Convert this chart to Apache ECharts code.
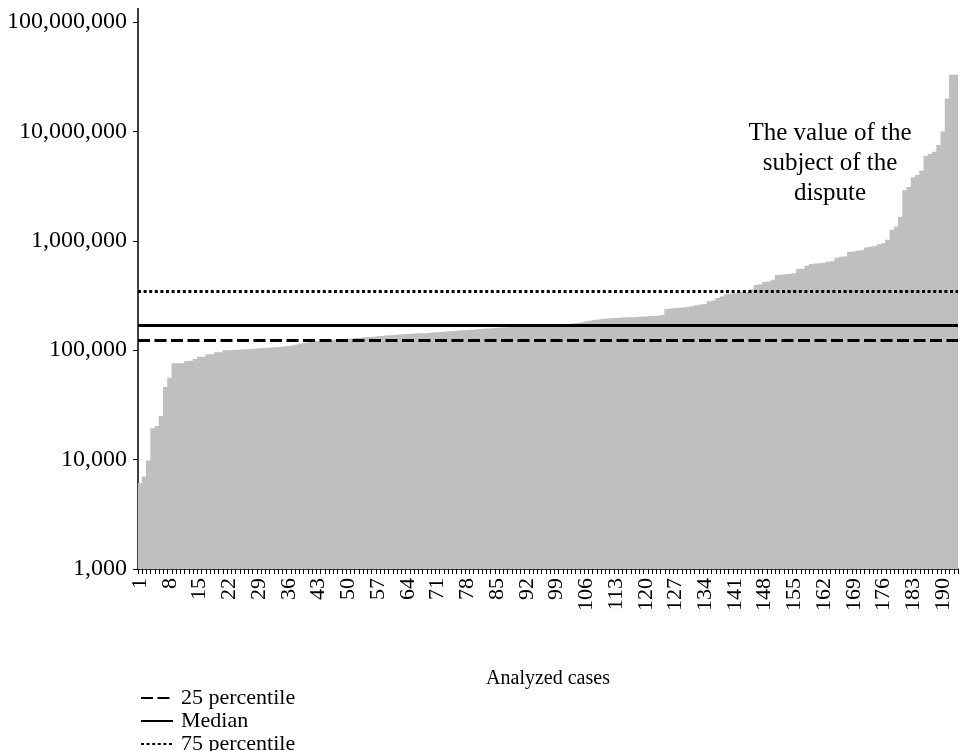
<!DOCTYPE html>
<html><head><meta charset="utf-8">
<script src="https://cdn.jsdelivr.net/npm/echarts@6/dist/echarts.min.js"></script>
<style>html,body{margin:0;padding:0;background:#fff}#c{width:961px;height:751px}</style>
</head><body><div id="c"></div>
<script>
const caseValues = [
  6100, 7000, 9800, 19300, 20300, 25000, 46000, 56000, 76000, 76000,
  76000, 79500, 80000, 83000, 87000, 87000, 92000, 92000, 96000, 96000,
  100000, 100000, 100500, 101000, 101500, 102000, 102500, 103000, 104000, 105000,
  105500, 106000, 106500, 107000, 108000, 109000, 111000, 113000, 115000, 117000,
  119000, 120000, 121000, 122000, 123000, 124000, 124500, 125000, 126000, 127000,
  128000, 129000, 130000, 131000, 132000, 133000, 134000, 135000, 136000, 137000,
  138000, 139000, 140000, 141000, 141500, 142000, 142500, 143000, 144000, 145000,
  146000, 147000, 148000, 149000, 150000, 151000, 152000, 153000, 154000, 155000,
  156000, 157000, 158000, 159000, 160000, 161000, 162000, 163000, 164000, 165000,
  166000, 167000, 168000, 168500, 169000, 169500, 170000, 170500, 171000, 172000,
  173000, 174000, 175000, 177000, 180000, 183000, 186000, 189000, 191000, 193000,
  195000, 196000, 197000, 198000, 199000, 200000, 200000, 201000, 202000, 203000,
  204000, 205000, 206000, 210000, 238000, 240000, 242000, 244000, 246000, 248000,
  252000, 258000, 261000, 265000, 280000, 285000, 300000, 310000, 325000, 330000,
  333000, 336000, 339000, 342000, 360000, 394000, 400000, 420000, 425000, 440000,
  486000, 490000, 495000, 500000, 505000, 552000, 555000, 590000, 614000, 620000,
  625000, 630000, 645000, 650000, 700000, 716000, 720000, 790000, 800000, 810000,
  820000, 870000, 883000, 890000, 930000, 950000, 1020000, 1260000, 1350000, 1660000,
  2900000, 3100000, 3800000, 4000000, 4400000, 6000000, 6200000, 6500000, 7500000, 10000000,
  20000000, 33000000, 33000000
];
const categories = caseValues.map((v, i) => String(i + 1));
const percentileNames = ['25 percentile', 'Median', '75 percentile'];
const percentileValues = [124000, 170000, 345000];
const percentileDash = [[12, 4.5], 'solid', [3, 2.6]];
const annotation = 'The value of the\nsubject of the\ndispute';

const FONT = '"Liberation Serif", "Times New Roman", serif';
const BAR_COLOR = '#bebfc1';
const chart = echarts.init(document.getElementById('c'), null, {renderer: 'canvas'});

const lineSeries = percentileNames.map((name, i) => ({
  name: name,
  type: 'line',
  data: [],
  symbol: 'none',
  z: 5,
  lineStyle: {color: '#000', width: 3, type: percentileDash[i]},
  itemStyle: {color: '#000'},
  markLine: {
    silent: true,
    symbol: 'none',
    label: {show: false},
    animation: false,
    lineStyle: {color: '#000', width: 3, type: percentileDash[i]},
    data: [{yAxis: percentileValues[i]}]
  }
}));

chart.setOption({
  animation: false,
  backgroundColor: '#fff',
  textStyle: {fontFamily: FONT, color: '#000'},
  grid: {left: 138, right: 3, top: 22, bottom: 182, containLabel: false},
  legend: {
    data: percentileNames,
    orient: 'vertical',
    left: 140,
    top: 687,
    height: 120,
    padding: 0,
    itemWidth: 32,
    itemHeight: 14,
    itemGap: 1,
    itemStyle: {opacity: 0, borderWidth: 0},
    textStyle: {fontFamily: FONT, fontSize: 22, color: '#000', lineHeight: 21, padding: [0, 0, 0, 3]},
    selectedMode: false
  },
  xAxis: {
    type: 'category',
    data: categories,
    name: 'Analyzed cases',
    nameLocation: 'middle',
    nameGap: 100,
    nameTextStyle: {fontFamily: FONT, fontSize: 20, color: '#000'},
    axisLine: {lineStyle: {color: '#000', width: 1.5}},
    axisTick: {show: true, interval: 0, length: 5, lineStyle: {color: '#000', width: 1}},
    axisLabel: {interval: 6, rotate: 90, fontFamily: FONT, fontSize: 22, color: '#000', margin: 9},
    splitLine: {show: false}
  },
  yAxis: {
    type: 'log',
    logBase: 10,
    min: 1000,
    max: 100000000,
    axisLine: {show: true, lineStyle: {color: '#000', width: 1.5}},
    axisTick: {show: true, length: 5, lineStyle: {color: '#000', width: 1}},
    axisLabel: {
      fontFamily: FONT, fontSize: 24, color: '#000', margin: 11,
      formatter: v => Math.round(v).toLocaleString('en-US')
    },
    splitLine: {show: false},
    minorTick: {show: false}
  },
  graphic: [
    {type: 'line', silent: true, shape: {x1: 138, y1: 8, x2: 138, y2: 22}, style: {stroke: '#000', lineWidth: 1.5}},
    {type: 'text', silent: true, x: 830, y: 118,
     style: {text: annotation, fill: '#000', font: '25px ' + FONT, textAlign: 'center', lineHeight: 30}}
  ],
  series: [
    {
      type: 'bar',
      data: caseValues,
      barWidth: 5.2,
      silent: true,
      clip: true,
      itemStyle: {color: BAR_COLOR, borderWidth: 0},
      z: 1
    }
  ].concat(lineSeries)
});
</script>
</body></html>
